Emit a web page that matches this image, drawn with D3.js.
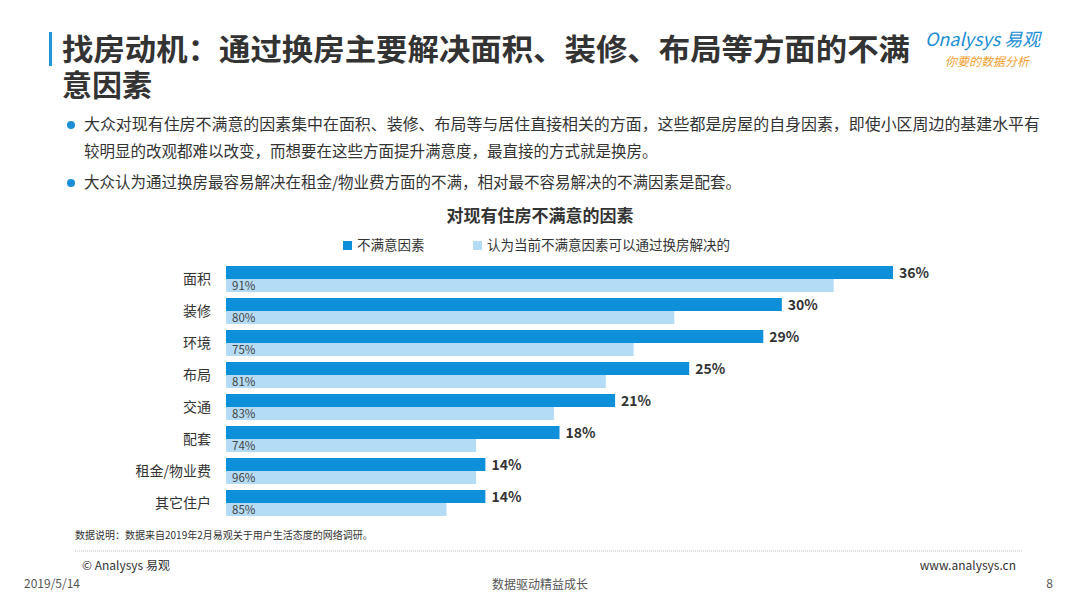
<!DOCTYPE html>
<html><head><meta charset="utf-8">
<script src="https://cdn.jsdelivr.net/npm/d3@7"></script>
<style>body{margin:0;background:#fff}svg{font-family:"Noto Sans CJK SC","Noto Sans",sans-serif}</style>
</head><body><svg id="c" width="1080" height="607"></svg>
<script>
let categories = ["面积", "装修", "环境", "布局", "交通", "配套", "租金/物业费", "其它住户"];
let dissatisfied = [36, 30, 29, 25, 21, 18, 14, 14];
// light bar length in % of all respondents, label = share solvable by moving
let solvable = [32.8, 24.2, 22, 20.5, 17.7, 13.5, 13.5, 11.9];
let solvableLabels = ["91%", "80%", "75%", "81%", "83%", "74%", "96%", "85%"];

let svg = d3.select("#c");
let dark = "#0e8fd9", light = "#b5dcf7";

// header
svg.append("rect").attr("x", 49).attr("y", 32).attr("width", 3).attr("height", 34).attr("fill", "#2196d9");
svg.append("text").attr("x", 62).attr("y", 60).attr("font-size", 30).attr("font-weight", "bold").attr("fill", "#333")
  .attr("textLength", 848).attr("lengthAdjust", "spacingAndGlyphs")
  .text("找房动机：通过换房主要解决面积、装修、布局等方面的不满");
svg.append("text").attr("x", 62).attr("y", 96).attr("font-size", 30).attr("font-weight", "bold").attr("fill", "#333").text("意因素");
svg.append("text").attr("x", 925).attr("y", 46).attr("font-size", 18).attr("fill", "#1a8ed6").attr("font-style", "italic").text("Onalysys 易观");
svg.append("text").attr("x", 945).attr("y", 66).attr("font-size", 12).attr("fill", "#f0a030").attr("font-style", "italic").text("你要的数据分析");

let bullets = [
  [130, "大众对现有住房不满意的因素集中在面积、装修、布局等与居住直接相关的方面，这些都是房屋的自身因素，即使小区周边的基建水平有", 956],
  [157, "较明显的改观都难以改变，而想要在这些方面提升满意度，最直接的方式就是换房。", 0],
  [188, "大众认为通过换房最容易解决在租金/物业费方面的不满，相对最不容易解决的不满因素是配套。", 0]
];
bullets.forEach(b => {
  let t = svg.append("text").attr("x", 84).attr("y", b[0]).attr("font-size", 15.5).attr("fill", "#333").text(b[1]);
  if (b[2]) t.attr("textLength", b[2]).attr("lengthAdjust", "spacingAndGlyphs");
});
[125, 183].forEach(y => svg.append("circle").attr("cx", 71).attr("cy", y).attr("r", 4).attr("fill", "#1a8ed6"));

// chart
svg.append("text").attr("x", 540).attr("y", 222).attr("text-anchor", "middle").attr("font-size", 17).attr("font-weight", "bold").attr("fill", "#333").text("对现有住房不满意的因素");
svg.append("rect").attr("x", 343).attr("y", 241).attr("width", 9).attr("height", 9).attr("fill", dark);
svg.append("text").attr("x", 357).attr("y", 250).attr("font-size", 13.5).attr("fill", "#333").text("不满意因素");
svg.append("rect").attr("x", 473).attr("y", 241).attr("width", 9).attr("height", 9).attr("fill", light);
svg.append("text").attr("x", 487).attr("y", 250).attr("font-size", 13.5).attr("fill", "#333").text("认为当前不满意因素可以通过换房解决的");

let x = d3.scaleLinear().domain([0, 36]).range([226, 893]);
let y = d3.scaleBand().domain(categories).range([265, 521]);
let bh = 13;

let g = svg.selectAll(".row").data(categories).enter().append("g");
g.append("rect").attr("x", x(0)).attr("y", d => y(d) + 1).attr("height", bh)
  .attr("width", (d, i) => x(dissatisfied[i]) - x(0)).attr("fill", dark);
g.append("rect").attr("x", x(0)).attr("y", d => y(d) + 1 + bh).attr("height", bh)
  .attr("width", (d, i) => x(solvable[i]) - x(0)).attr("fill", light);
g.append("text").attr("x", (d, i) => x(dissatisfied[i]) + 6).attr("y", d => y(d) + 13)
  .attr("font-size", 14).attr("font-weight", "bold").attr("fill", "#333").text((d, i) => dissatisfied[i] + "%");
g.append("text").attr("x", x(0) + 6).attr("y", d => y(d) + 24.5)
  .attr("font-size", 11.5).attr("fill", "#444").text((d, i) => solvableLabels[i]);
g.append("text").attr("x", 211).attr("y", d => y(d) + 19).attr("text-anchor", "end")
  .attr("font-size", 14).attr("fill", "#333").text(d => d);

// footer
svg.append("text").attr("x", 75).attr("y", 539).attr("font-size", 10).attr("fill", "#333").text("数据说明：数据来自2019年2月易观关于用户生活态度的网络调研。");
svg.append("line").attr("x1", 75).attr("x2", 1022).attr("y1", 551).attr("y2", 551).attr("stroke", "#bbb").attr("stroke-dasharray", "1,1");
svg.append("text").attr("x", 82).attr("y", 570).attr("font-size", 12).attr("fill", "#333").text("© Analysys 易观");
svg.append("text").attr("x", 1016).attr("y", 570).attr("text-anchor", "end").attr("font-size", 12).attr("fill", "#333").text("www.analysys.cn");
svg.append("text").attr("x", 24).attr("y", 588).attr("font-size", 12).attr("fill", "#555").text("2019/5/14");
svg.append("text").attr("x", 540).attr("y", 589).attr("text-anchor", "middle").attr("font-size", 12).attr("fill", "#555").text("数据驱动精益成长");
svg.append("text").attr("x", 1053).attr("y", 588).attr("text-anchor", "end").attr("font-size", 12).attr("fill", "#555").text("8");
</script></body></html>
